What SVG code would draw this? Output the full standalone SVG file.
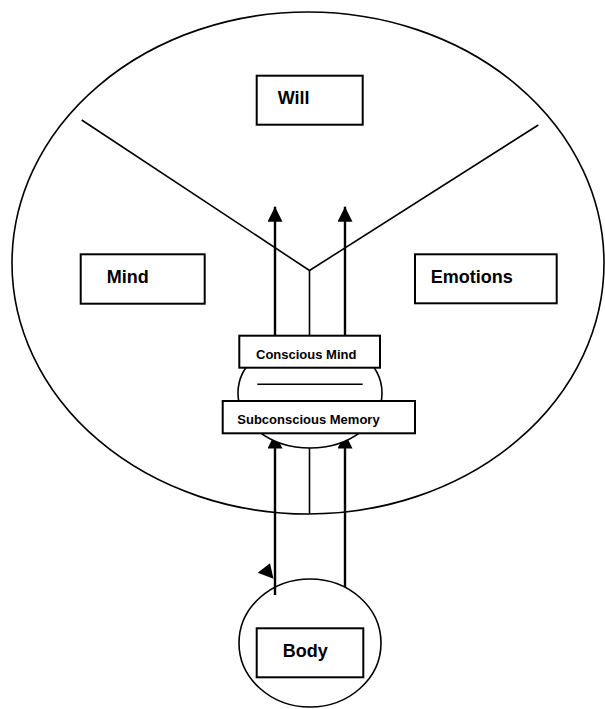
<svg xmlns="http://www.w3.org/2000/svg" width="605" height="709" viewBox="0 0 605 709">
<defs>
<style>
.outline{fill:none;stroke:#000;stroke-width:1.6}
.box{fill:#fff;stroke:#000;stroke-width:2}
.ln{fill:none;stroke:#000;stroke-width:1.6}
.arr{fill:none;stroke:#000;stroke-width:2.4;marker-end:url(#ah)}
.lbl{font-family:"Liberation Sans",Arial,sans-serif;font-weight:bold;fill:#000}
.big{font-size:18px}
.small{font-size:13px}
</style>
<marker id="ah" viewBox="0 0 16 16" refX="16" refY="8" markerWidth="16" markerHeight="15" orient="auto" markerUnits="userSpaceOnUse">
<path d="M0,0 L16,8 L0,16 z" fill="#000"/>
</marker>
</defs>
<rect width="605" height="709" fill="#fff"/>
<g id="soul">
<ellipse class="outline" cx="308" cy="263" rx="296" ry="251"/>
</g>
<g id="dividers">
<polyline class="ln" points="81.7,120 309.5,270.5 538.3,125"/>
</g>
<g id="body">
<ellipse class="outline" cx="310" cy="643" rx="71" ry="64" style="fill:#fff"/>
<rect class="box" x="256.7" y="628.3" width="106.6" height="49"/>
<text class="lbl big" x="282.7" y="656.7">Body</text>
</g>
<g id="connectors">
<line class="ln" x1="309.5" y1="270.5" x2="309.5" y2="336"/>
<line class="ln" x1="309.5" y1="448" x2="309.5" y2="514"/>
<line class="arr" x1="275" y1="336" x2="275" y2="206.7"/>
<line class="arr" x1="345" y1="336" x2="345" y2="206.7"/>
<line class="arr" x1="275" y1="595" x2="275" y2="433.5"/>
<line class="arr" x1="345" y1="587" x2="345" y2="433.5"/>
<polygon points="257.7,572.7 270,563.3 273.5,578.8" fill="#000"/>
</g>
<g id="memory-core">
<ellipse class="outline" cx="310" cy="393" rx="72" ry="55" style="fill:#fff"/>
<line class="ln" x1="257.3" y1="384.3" x2="362.7" y2="384.3"/>
</g>
<g id="will">
<rect class="box" x="256.7" y="75.7" width="106" height="49"/>
<text class="lbl big" x="277.7" y="104">Will</text>
</g>
<g id="mind">
<rect class="box" x="80.7" y="254.3" width="124" height="49.4"/>
<text class="lbl big" x="106.7" y="282.7">Mind</text>
</g>
<g id="emotions">
<rect class="box" x="415" y="254.3" width="141.7" height="49"/>
<text class="lbl big" x="430.7" y="282.7">Emotions</text>
</g>
<g id="conscious-mind">
<rect class="box" x="239.3" y="335.7" width="140.7" height="32"/>
<text class="lbl small" x="256" y="359">Conscious Mind</text>
</g>
<g id="subconscious-memory">
<rect class="box" x="222.7" y="401" width="192.3" height="32.3"/>
<text class="lbl small" x="237.3" y="424">Subconscious Memory</text>
</g>
</svg>
